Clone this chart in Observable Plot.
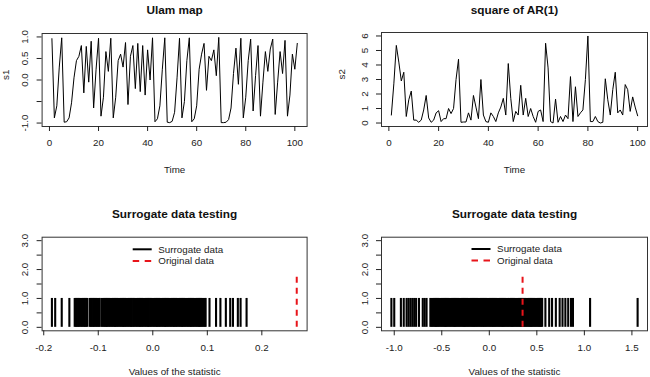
<!DOCTYPE html>
<html>
<head>
<meta charset="utf-8">
<script src="https://cdn.jsdelivr.net/npm/d3@7"></script>
<script src="https://cdn.jsdelivr.net/npm/@observablehq/plot@0.6"></script>
<style>
  html, body { margin: 0; padding: 0; background: #fff; }
  #fig { position: relative; width: 650px; height: 377px; overflow: hidden; background: #fff;
         font-family: "Liberation Sans", Arial, sans-serif; }
  #fig > svg { position: absolute; left: 0; top: 0; }
</style>
</head>
<body>
<div id="fig"></div>
<script>
// ---- Series: Ulam map s1 (time 1..101) ----
const ulam = [
  0.96, -0.88, -0.60, 0.30, 0.98, -0.98, -0.97, -0.88, -0.53, 0.05,
  0.45, 0.55, 0.80, -0.30, 0.78, -0.05, 0.90, -0.65, 0.25, 0.97,
  -0.84, -0.40, 0.66, 0.20, 0.97, -0.88, -0.40, 0.45, 0.60, 0.30,
  0.87, -0.57, 0.55, 0.80, -0.20, 0.85, -0.27, 0.80, -0.35, 0.70,
  0.00, 0.98, -0.97, -0.90, -0.60, 0.25, 0.98, -0.98, -0.99, -0.96,
  -0.75, 0.05, 0.97, -0.88, -0.50, 0.45, 0.98, -0.97, -0.90, -0.60,
  0.25, 0.60, 0.85, -0.24, 0.55, 0.45, 0.70, 0.10, 0.99, -0.99,
  -0.99, -0.98, -0.92, -0.65, 0.15, 0.74, -0.10, 0.97, -0.88, -0.40,
  0.45, 0.95, -0.72, 0.10, 0.80, -0.84, -0.05, 0.66, 0.20, 0.72,
  0.95, -0.80, -0.05, 0.66, 0.15, 0.92, -0.84, -0.35, 0.60, 0.25,
  0.85
];

// ---- Series: square of AR(1) s2 (time 1..100) ----
const arSq = [
  0.55, 2.7, 5.35, 4.2, 2.9, 3.5, 0.45, 1.6, 2.2, 0.2,
  0.2, 0.05, 0.2, 0.9, 1.9, 0.35, 0.05, 0.2, 0.7, 0.85,
  0.1, 0.3, 0.3, 1.0, 0.65, 1.0, 3.0, 4.4, 0.05, 0.07,
  0.07, 0.7, 0.2, 1.9, 1.1, 0.3, 3.0, 0.55, 0.1, 0.05,
  0.7, 0.45, 0.1, 0.7, 1.1, 1.7, 0.55, 4.1, 1.7, 0.1,
  0.8, 0.55, 2.6, 0.55, 1.7, 0.45, 1.0, 0.45, 0.05, 0.8,
  0.9, 0.1, 5.5, 3.8, 0.1, 0.0, 1.65, 0.05, 0.45, 0.1,
  0.55, 0.3, 3.2, 0.1, 2.5, 0.45, 0.7, 0.9, 3.0, 6.0,
  0.1, 0.1, 0.45, 0.1, 0.0, 0.05, 3.05, 1.6, 0.55, 2.3,
  3.5, 0.7, 0.9, 0.55, 2.65, 2.3, 0.8, 1.8, 1.1, 0.5
];

// ---- Surrogate statistics, Ulam map ----
const surrogatesUlam = [
  -0.185, -0.179, -0.167, -0.153,
  -0.1432, -0.1411, -0.1392, -0.1369, -0.1351, -0.1327, -0.1306, -0.1288, -0.1263, -0.1245,
  -0.1222, -0.1203,
  -0.1158, -0.1137, -0.1119, -0.1095, -0.1076, -0.1054, -0.1033, -0.1015, -0.0992, -0.0976,
  -0.0941, -0.0922, -0.0899, -0.0881, -0.0858, -0.0840, -0.0817, -0.0796, -0.0778, -0.0754,
  -0.0737, -0.0713, -0.0694, -0.0673, -0.0651, -0.0632, -0.0609, -0.0590, -0.0568, -0.0547,
  -0.0528, -0.0505, -0.0487, -0.0463, -0.0445, -0.0422, -0.0401, -0.0383, -0.0359, -0.0341,
  -0.0318, -0.0297, -0.0279, -0.0255, -0.0236, -0.0214, -0.0193, -0.0175, -0.0151, -0.0132,
  -0.0110, -0.0089, -0.0071, -0.0047, -0.0028, -0.0006, 0.0015, 0.0033, 0.0057, 0.0076,
  0.0098, 0.0119, 0.0137, 0.0161, 0.0180, 0.0202, 0.0223, 0.0241, 0.0265, 0.0284,
  0.0306, 0.0327, 0.0345, 0.0369, 0.0388, 0.0410, 0.0431, 0.0449, 0.0473, 0.0492,
  0.0514, 0.0535, 0.0553, 0.0577, 0.0596, 0.0618, 0.0639, 0.0657, 0.0681, 0.0700,
  0.0722, 0.0743, 0.0761, 0.0785, 0.0804, 0.0826, 0.0847, 0.0865, 0.0889, 0.0908,
  0.0930, 0.0951, 0.0969,
  0.104, 0.116, 0.124, 0.134, 0.142, 0.147, 0.156, 0.161, 0.172
];
const originalUlam = 0.264;

// ---- Surrogate statistics, square of AR(1) ----
const surrogatesAr = [
  -1.03, -1.00, -0.93, -0.90, -0.87, -0.85, -0.83, -0.81, -0.79, -0.77,
  -0.74, -0.70, -0.68, -0.66,
  -0.620, -0.608, -0.597, -0.585, -0.572, -0.561, -0.549, -0.537, -0.526, -0.513,
  -0.502, -0.490, -0.478, -0.466, -0.455, -0.443, -0.431, -0.419, -0.408, -0.396,
  -0.384, -0.372, -0.361, -0.349, -0.337, -0.325, -0.314, -0.302, -0.290, -0.278,
  -0.267, -0.255, -0.243, -0.231, -0.220, -0.208, -0.196, -0.184, -0.173, -0.161,
  -0.149, -0.137, -0.126, -0.114, -0.102, -0.090, -0.079, -0.067, -0.055, -0.043,
  -0.032, -0.020, -0.008, 0.004, 0.015, 0.027, 0.039, 0.051, 0.062, 0.074,
  0.086, 0.098, 0.109, 0.121, 0.133, 0.145, 0.156, 0.168, 0.180, 0.192,
  0.203, 0.215, 0.227, 0.239, 0.250, 0.262, 0.274, 0.286, 0.297, 0.309,
  0.321, 0.333, 0.344, 0.356, 0.368, 0.380, 0.391, 0.403, 0.415, 0.427,
  0.438, 0.450, 0.462, 0.474, 0.485, 0.497, 0.509, 0.521, 0.532, 0.544, 0.556,
  0.59, 0.63, 0.66, 0.70, 0.74, 0.77, 0.80, 0.83, 0.86, 0.88,
  1.06, 1.56
];
const originalAr = 0.35;
const originalHeight = 1.86;

// ---- Labels ----
const titles = ["Ulam map", "square of AR(1)", "Surrogate data testing", "Surrogate data testing"];
const timeTicks = [0, 20, 40, 60, 80, 100];
const ulamTicks = [-1, -0.5, 0, 0.5, 1];
const arTicks = [0, 1, 2, 3, 4, 5, 6];
const countTicks = [0, 0.5, 1, 1.5, 2, 2.5, 3];
const statTicksUlam = [-0.2, -0.1, 0, 0.1, 0.2];
const statTicksAr = [-1, -0.5, 0, 0.5, 1, 1.5];
const legendLabels = ["Surrogate data", "Original data"];

const W = 650, H = 377;
const FONT = "'Liberation Sans', Arial, Helvetica, sans-serif";
const fig = document.getElementById("fig");

const fmt1 = d => d.toFixed(1);

function panel({box, xDomain, yDomain, xTicks, yTicks, xFmt, yFmt, title, titleY, xLabel, xLabelY, yLabel, yLabelDx, marks}) {
  return Plot.plot({
    width: W, height: H,
    marginLeft: box.left, marginRight: W - box.right,
    marginTop: box.top, marginBottom: H - box.bottom,
    x: {domain: xDomain},
    y: {domain: yDomain},
    style: {background: "transparent", overflow: "visible", fontFamily: FONT, fontSize: "9.8px", color: "#222"},
    marks: [
      ...marks,
      Plot.frame({stroke: "#333", strokeWidth: 1}),
      Plot.axisX({ticks: xTicks, tickFormat: xFmt, tickSize: 5, tickPadding: 8, label: null}),
      Plot.axisY({ticks: yTicks, tickFormat: yFmt, tickSize: 5, tickRotate: -90, tickPadding: 9, label: null}),
      Plot.text([title], {text: d => d, frameAnchor: "top", dy: titleY - box.top, lineAnchor: "middle",
        fontWeight: "bold", fontSize: 11.8, fill: "#111"}),
      Plot.text([xLabel], {text: d => d, frameAnchor: "bottom", dy: xLabelY - box.bottom, lineAnchor: "middle", fill: "#222"}),
      ...(yLabel ? [Plot.text([yLabel], {text: d => d, frameAnchor: "left", dx: yLabelDx, rotate: -90, lineAnchor: "middle", fill: "#222"})] : [])
    ]
  });
}

const ulamRows = ulam.map((v, i) => ({t: i + 1, v}));
const arRows = arSq.map((v, i) => ({t: i + 1, v}));

// Top left: Ulam map series
fig.appendChild(panel({
  box: {left: 41.6, right: 306.6, top: 33, bottom: 126},
  xDomain: [-3, 105], yDomain: [-1.08, 1.08],
  xTicks: timeTicks, yTicks: ulamTicks,
  xFmt: d => String(d), yFmt: d => (d === -0.5 ? "" : fmt1(d)),
  title: titles[0], titleY: 9.5, xLabel: "Time", xLabelY: 169, yLabel: "s1", yLabelDx: -36.5,
  marks: [Plot.line(ulamRows, {x: "t", y: "v", stroke: "#000", strokeWidth: 1})]
}));

// Top right: square of AR(1) series
fig.appendChild(panel({
  box: {left: 381, right: 647, top: 32, bottom: 126},
  xDomain: [-2.96, 103.96], yDomain: [-0.24, 6.24],
  xTicks: timeTicks, yTicks: arTicks,
  xFmt: d => String(d), yFmt: d => String(d),
  title: titles[1], titleY: 9.5, xLabel: "Time", xLabelY: 169, yLabel: "s2", yLabelDx: -40,
  marks: [Plot.line(arRows, {x: "t", y: "v", stroke: "#000", strokeWidth: 1})]
}));

const countFmt = d => (Number.isInteger(d) ? fmt1(d) : "");

function testMarks(surr, orig) {
  return [
    Plot.ruleX(surr, {x: d => d, y1: 0, y2: 1, stroke: "#000", strokeWidth: 2.1}),
    Plot.ruleX([orig], {x: d => d, y1: 0, y2: originalHeight, stroke: "#e8141a", strokeWidth: 2, strokeDasharray: "6,5"})
  ];
}

// Bottom left: surrogate test, Ulam map
fig.appendChild(panel({
  box: {left: 41.6, right: 306.6, top: 236.7, bottom: 330.3},
  xDomain: [-0.203, 0.283], yDomain: [-0.12, 3.12],
  xTicks: statTicksUlam, yTicks: countTicks,
  xFmt: fmt1, yFmt: countFmt,
  title: titles[2], titleY: 214, xLabel: "Values of the statistic", xLabelY: 371.5, yLabel: null,
  marks: testMarks(surrogatesUlam, originalUlam)
}));

// Bottom right: surrogate test, square of AR(1)
fig.appendChild(panel({
  box: {left: 381, right: 647, top: 236.7, bottom: 330.3},
  xDomain: [-1.134, 1.664], yDomain: [-0.12, 3.12],
  xTicks: statTicksAr, yTicks: countTicks,
  xFmt: fmt1, yFmt: countFmt,
  title: titles[3], titleY: 214, xLabel: "Values of the statistic", xLabelY: 371.5, yLabel: null,
  marks: testMarks(surrogatesAr, originalAr)
}));

// Legends (no box), one per test panel
const legend = d3.select(fig).append("svg")
  .attr("width", W).attr("height", H)
  .style("font-family", FONT).style("font-size", "9.8px");
[{x: 132.7, y: 249.3}, {x: 471.5, y: 249.0}].forEach(pos => {
  legendLabels.forEach((lab, i) => {
    const y = pos.y + i * 11.6;
    legend.append("line")
      .attr("x1", pos.x).attr("x2", pos.x + 19).attr("y1", y).attr("y2", y)
      .attr("stroke", i === 0 ? "#000" : "#e8141a").attr("stroke-width", 2)
      .attr("stroke-dasharray", i === 0 ? null : "6.5,5.5");
    legend.append("text")
      .attr("x", pos.x + 25.6).attr("y", y).attr("dy", "0.35em")
      .attr("fill", "#222").text(lab);
  });
});
</script>
</body>
</html>
